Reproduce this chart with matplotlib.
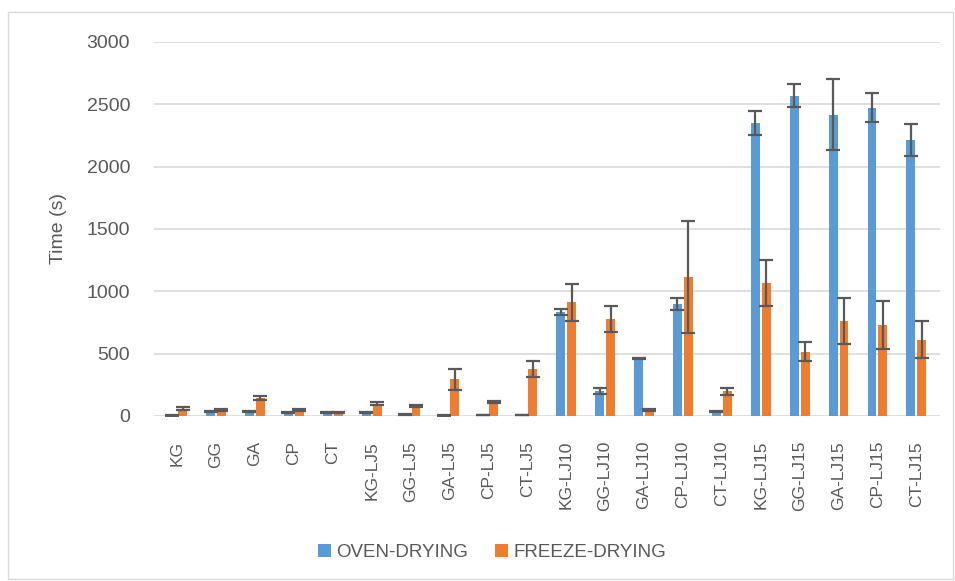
import numpy as np
import matplotlib.pyplot as plt
from matplotlib.patches import Rectangle

samples = ['KG', 'GG', 'GA', 'CP', 'CT',
           'KG-LJ5', 'GG-LJ5', 'GA-LJ5', 'CP-LJ5', 'CT-LJ5',
           'KG-LJ10', 'GG-LJ10', 'GA-LJ10', 'CP-LJ10', 'CT-LJ10',
           'KG-LJ15', 'GG-LJ15', 'GA-LJ15', 'CP-LJ15', 'CT-LJ15']

oven = [5, 35, 35, 25, 30,
        28, 10, 5, 8, 8,
        835, 200, 463, 900, 35,
        2350, 2568, 2414, 2472, 2215]
oven_err = [3, 5, 5, 4, 4,
            5, 3, 2, 2, 2,
            22, 27, 6, 50, 6,
            95, 90, 285, 117, 127]

freeze = [58, 50, 145, 48, 25,
          100, 80, 295, 112, 375,
          910, 780, 50, 1115, 198,
          1063, 515, 765, 730, 612]
freeze_err = [12, 8, 15, 10, 4,
              12, 8, 85, 5, 65,
              150, 103, 8, 450, 30,
              185, 75, 185, 190, 147]

blue = '#5B9BD5'
orange = '#ED7D31'
grey = '#595959'

plt.rcParams['font.family'] = ['Liberation Sans', 'DejaVu Sans']

fig = plt.figure(figsize=(9.55, 5.81), dpi=100)
ax = fig.add_axes([0.161, 0.284, 0.823, 0.644])

x = np.arange(len(samples))
w = 0.23
off = 0.14
ekw = dict(ecolor=grey, elinewidth=1.6, capsize=5, capthick=1.6)
ax.bar(x - off, oven, w, color=blue, yerr=oven_err, error_kw=ekw, label='OVEN-DRYING', zorder=3)
ax.bar(x + off, freeze, w, color=orange, yerr=freeze_err, error_kw=ekw, label='FREEZE-DRYING', zorder=3)

ax.set_ylim(0, 3000)
ax.set_xlim(-0.6, len(samples) - 0.4)
ax.set_yticks(np.arange(0, 3001, 500))
ax.yaxis.grid(True, color='#D9D9D9', linewidth=1.2, zorder=0)
for s in ax.spines.values():
    s.set_visible(False)
ax.tick_params(length=0, colors=grey)
ax.tick_params(axis='y', pad=17, labelsize=14)
ax.tick_params(axis='x', pad=18)
ax.set_xticks(x)
ax.set_xticklabels(samples, rotation=90, fontsize=12.5, color=grey)
ax.set_ylabel('Time (s)', fontsize=14, color=grey, labelpad=14)

fig.legend(loc='lower center', bbox_to_anchor=(0.515, 0.005), ncol=2, frameon=False,
           fontsize=13.5, handlelength=0.7, handleheight=0.7, columnspacing=1.4,
           handletextpad=0.3, labelcolor=grey)

fig.patches.append(Rectangle((0.008, 0.003), 0.99, 0.977, transform=fig.transFigure,
                             fill=False, edgecolor='#D9D9D9', linewidth=1))

fig.savefig('out.png', dpi=100)
